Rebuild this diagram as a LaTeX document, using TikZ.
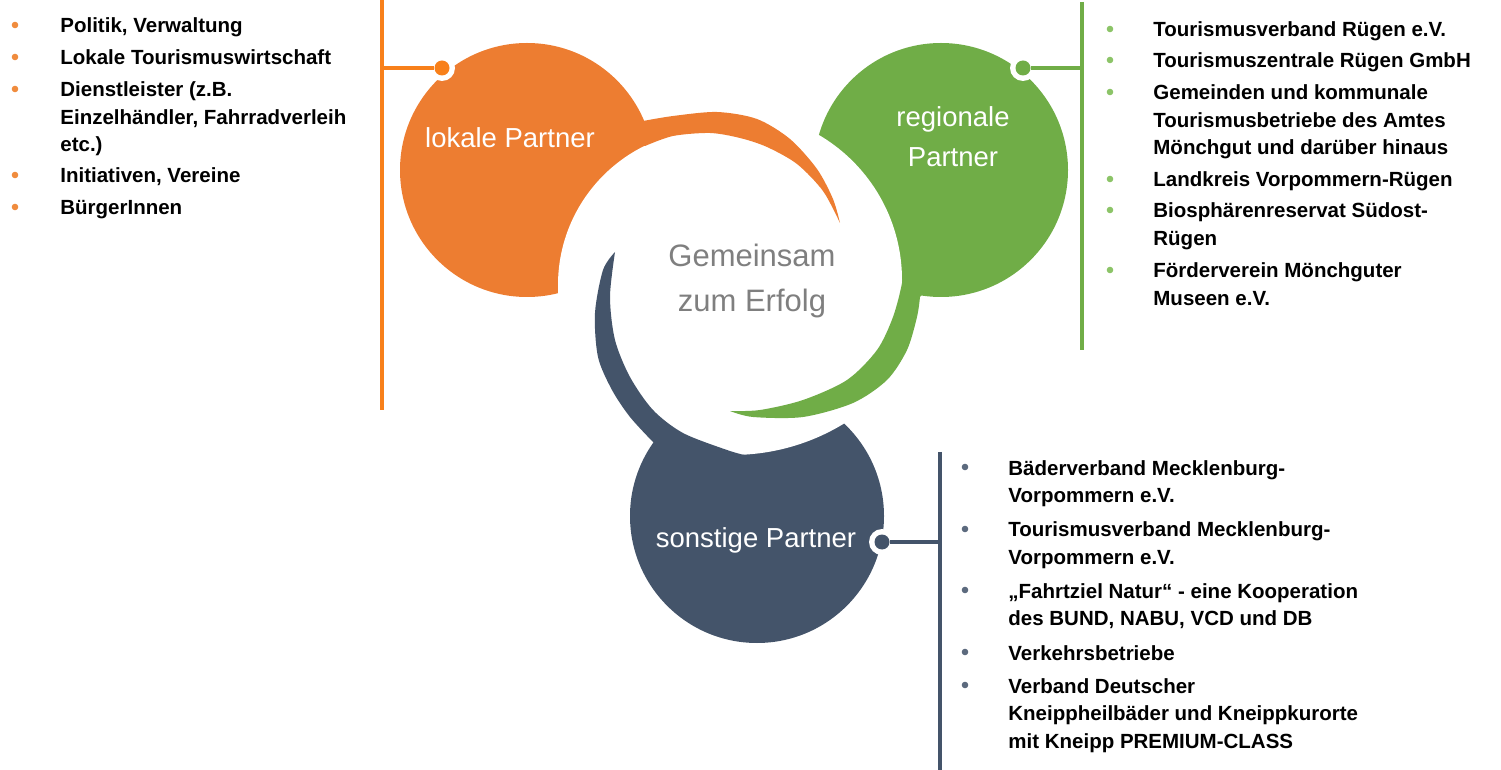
\documentclass[tikz,border=0pt]{standalone}
\usepackage{fontspec}
\setmainfont{Liberation Sans}
\usepackage{xcolor}
\usepackage{tikz}
\definecolor{lokfill}{RGB}{237,125,49}
\definecolor{lokline}{RGB}{248,128,26}
\definecolor{lokbullet}{RGB}{240,140,62}
\definecolor{regfill}{RGB}{112,173,71}
\definecolor{regbullet}{RGB}{140,196,104}
\definecolor{sonfill}{RGB}{68,84,106}
\definecolor{sonbullet}{RGB}{92,106,126}
\definecolor{mittegray}{RGB}{127,127,127}

\begin{document}
\begin{tikzpicture}[x=0.5pt,y=-0.5pt,
  listtext/.style={anchor=base west,inner sep=0pt,align=left,
    font=\fontsize{10.25}{13.75}\selectfont\bfseries},
  bulletdot/.style={circle,inner sep=0pt,minimum size=3.3pt,fill=#1},
  circlelabel/.style={anchor=base,inner sep=0pt,align=center,text=white,
    font=\fontsize{13.75}{20}\selectfont},
  centerlabel/.style={anchor=base,inner sep=0pt,align=center,text=mittegray,
    font=\fontsize{15.5}{22.5}\selectfont},
  ring/.style={circle,inner sep=0pt,minimum size=13pt,fill=white},
  dot/.style={circle,inner sep=0pt,minimum size=7.5pt,fill=#1},
  bar/.style={line width=2.4pt,draw=#1},
  connector/.style={line width=2.3pt,draw=#1}]
\useasboundingbox (0,0) rectangle (1501,770);

% circles, each cut by the white centre
\fill[lokfill] (527,170) circle[radius=63.5pt];
\begin{scope}
  \clip (527,170) circle[radius=64.5pt];
  \fill[white] (713,285) circle[radius=77.5pt];
\end{scope}
\fill[regfill] (941,170) circle[radius=63.5pt];
\begin{scope}
  \clip (941,170) circle[radius=64.5pt];
  \fill[white] (734,280) circle[radius=84pt];
\end{scope}
\fill[sonfill] (757,516) circle[radius=63.5pt];
\begin{scope}
  \clip (757,516) circle[radius=64.5pt];
  \fill[white] (732,240) circle[radius=107.5pt];
\end{scope}

% swooshes round the centre
\fill[lokfill] (630,140) -- plot[smooth] coordinates {(643,121) (673,116) (717,112)
  (757,119) (790,139) (817,169) (833,199) (840,223)}
  -- plot[smooth] coordinates {(840,223) (823,191) (797,164) (767,147) (740,138)
  (710,133) (673,136) (645,146)} -- cycle;
\fill[regfill] (930,285) -- plot[smooth] coordinates {(920,297) (917,317) (907,350)
  (887,380) (853,403) (803,417) (753,417) (730,411)}
  -- plot[smooth] coordinates {(730,411) (760,410) (803,400) (847,380) (877,350)
  (893,317) (902,283) (903,262)} -- (925,262) -- cycle;
\fill[sonfill] plot[smooth] coordinates {(615,252) (603,270) (595,313) (598,357)
  (612,390) (630,417) (653,442)} -- (690,470)
  -- plot[smooth] coordinates {(748,456) (727,450) (683,433) (653,410) (630,377)
  (615,340) (610,297) (615,252)} -- cycle;

\node[circlelabel] (lokal) at (510,148) {lokale Partner};
\node[circlelabel] (regional) at (953,167) {regionale\\Partner};
\node[circlelabel] (sonstig) at (756,547) {sonstige Partner};
\node[centerlabel] (mitte) at (752,312) {Gemeinsam\\zum Erfolg};

% connectors and bars
\coordinate (lokbartop) at (382,0);
\coordinate (lokbarbot) at (382,410);
\coordinate (lokjoin) at (382,68);
\coordinate (regbartop) at (1082,2);
\coordinate (regbarbot) at (1082,350);
\coordinate (regjoin) at (1082,68);
\coordinate (sonbartop) at (940,452);
\coordinate (sonbarbot) at (940,770);
\coordinate (sonjoin) at (940,542);

\node[ring] (lokring) at (442,68) {};
\node[dot=lokline] (lokdot) at (442,68) {};
\node[ring] (regring) at (1023,68) {};
\node[dot=regfill] (regdot) at (1023,68) {};
\node[ring] (sonring) at (882,542) {};
\node[dot=sonfill] (sondot) at (882,542) {};

\draw[bar=lokline] (lokbartop) -- (lokbarbot);
\draw[connector=lokline] (lokdot) -- (lokjoin);
\draw[bar=regfill] (regbartop) -- (regbarbot);
\draw[connector=regfill] (regdot) -- (regjoin);
\draw[bar=sonfill] (sonbartop) -- (sonbarbot);
\draw[connector=sonfill] (sondot) -- (sonjoin);

% lists: first baseline / number of lines / text
\foreach \y/\n/\txt [count=\i] in {33/1/{Politik, Verwaltung},
  65/1/{Lokale Tourismuswirtschaft},
  97/3/{Dienstleister (z.B.\\Einzelhändler, Fahrradverleih\\etc.)},
  183/1/{Initiativen, Vereine},
  215/1/{BürgerInnen}} {
  \node[listtext] (lok\i) at (60,\y+\n*27.5-27.5) {\txt};
  \node[bulletdot=lokbullet] (lokb\i) at (15,\y-8) {};
}
\foreach \y/\n/\txt [count=\i] in {37/1/{Tourismusverband Rügen e.V.},
  68/1/{Tourismuszentrale Rügen GmbH},
  100/3/{Gemeinden und kommunale\\Tourismusbetriebe des Amtes\\Mönchgut und darüber hinaus},
  187/1/{Landkreis Vorpommern-Rügen},
  218/2/{Biosphärenreservat Südost-\\Rügen},
  278/2/{Förderverein Mönchguter\\Museen e.V.}} {
  \node[listtext] (reg\i) at (1153,\y+\n*27.5-27.5) {\txt};
  \node[bulletdot=regbullet] (regb\i) at (1110,\y-8) {};
}
\foreach \y/\n/\txt [count=\i] in {475/2/{Bäderverband Mecklenburg-\\Vorpommern e.V.},
  537/2/{Tourismusverband Mecklenburg-\\Vorpommern e.V.},
  598/2/{„Fahrtziel Natur“ - eine Kooperation\\des BUND, NABU, VCD und DB},
  660/1/{Verkehrsbetriebe},
  693/3/{Verband Deutscher\\Kneippheilbäder und Kneippkurorte\\mit Kneipp PREMIUM-CLASS}} {
  \node[listtext] (son\i) at (1008,\y+\n*27.5-27.5) {\txt};
  \node[bulletdot=sonbullet] (sonb\i) at (965,\y-8) {};
}
\end{tikzpicture}
\end{document}
